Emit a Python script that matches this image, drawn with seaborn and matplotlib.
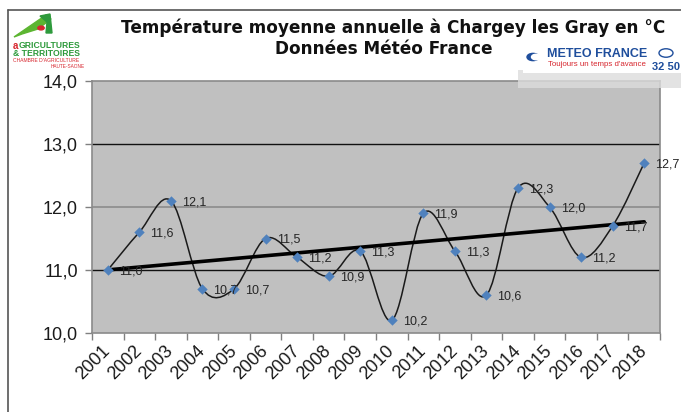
import numpy as np
import matplotlib
matplotlib.use("Agg")
import matplotlib.pyplot as plt
import seaborn as sns
from matplotlib.path import Path
from matplotlib.patches import PathPatch, Polygon, Rectangle, Circle

# données
years = ["2001", "2002", "2003", "2004", "2005", "2006", "2007", "2008", "2009",
         "2010", "2011", "2012", "2013", "2014", "2015", "2016", "2017", "2018"]
temps = [11.0, 11.6, 12.1, 10.7, 10.7, 11.5, 11.2, 10.9, 11.3,
         10.2, 11.9, 11.3, 10.6, 12.3, 12.0, 11.2, 11.7, 12.7]
yticks = [10.0, 11.0, 12.0, 13.0, 14.0]

sns.set_theme(style="white")
plt.rcParams["font.family"] = ["Liberation Sans", "DejaVu Sans"]

W, H = 681, 412
fig = plt.figure(figsize=(W / 100, H / 100), dpi=100)
ax = fig.add_axes([92 / W, 1 - 333 / H, 568 / W, 252 / H])
ax.set_facecolor("#c0c0c0")

x = np.arange(len(temps))
y = np.array(temps)

# gridlines (comme dans l'image : 11 et 13 noires, 12 grise)
ax.axhline(12.0, color="#8c8c8c", lw=1.2, zorder=1)
ax.axhline(11.0, color="#111111", lw=1.0, zorder=1)
ax.axhline(13.0, color="#111111", lw=1.0, zorder=1)

# courbe lissée type Excel (Bezier Catmull-Rom)
pts = np.column_stack([x, y])
ext = np.vstack([pts[0], pts, pts[-1]])
verts = [tuple(pts[0])]
codes = [Path.MOVETO]
for i in range(1, len(ext) - 2):
    p0, p1, p2, p3 = ext[i - 1], ext[i], ext[i + 1], ext[i + 2]
    c1 = p1 + (p2 - p0) / 6
    c2 = p2 - (p3 - p1) / 6
    verts += [tuple(c1), tuple(c2), tuple(p2)]
    codes += [Path.CURVE4] * 3
ax.add_patch(PathPatch(Path(verts, codes), fill=False, color="#1a1a1a", lw=1.1, zorder=2))

# tendance linéaire
sns.regplot(x=x, y=y, scatter=False, ci=None, truncate=True, ax=ax,
            line_kws=dict(color="black", lw=2.6, zorder=3))

sns.scatterplot(x=x, y=y, marker="D", s=28, color="#4f81bd", edgecolor="#4f81bd",
                linewidth=0, zorder=4, ax=ax)

for xi, yi in zip(x, y):
    ax.annotate(f"{yi:.1f}".replace(".", ","), (xi, yi), xytext=(8, -1),
                textcoords="offset points", ha="left", va="center",
                fontsize=9, color="#262626", zorder=5)

ax.set_xlim(-0.5, len(temps) - 0.5)
ax.set_ylim(10.0, 14.0)
ax.set_yticks(yticks)
ax.set_yticklabels([f"{v:.1f}".replace(".", ",") for v in yticks], fontsize=13, color="#1a1a1a")
ax.set_xticks(x)
ax.set_xticklabels(years, rotation=45, ha="right", va="center", rotation_mode="anchor",
                   fontsize=13, color="#1a1a1a")
ax.set_xticks(np.arange(-0.5, len(temps)), minor=True)
ax.tick_params(axis="x", which="major", length=0, pad=11)
ax.tick_params(axis="x", which="minor", length=5, color="#808080", width=1, bottom=True)
ax.tick_params(axis="y", length=5, color="#808080", width=1, left=True, pad=5)
ax.set_xlabel("")
ax.set_ylabel("")
for s in ax.spines.values():
    s.set_color("#8a8a8a")
    s.set_linewidth(1.2)


def fx(px):
    return px / W


def fy(py):
    return 1 - py / H


# cadre du graphique
fig.add_artist(plt.Line2D([fx(8), fx(8)], [fy(10), fy(412)], color="#555555", lw=1.2))
fig.add_artist(plt.Line2D([fx(8), fx(681)], [fy(10), fy(10)], color="#555555", lw=1.2))

# logo Météo France (approximation)
fig.add_artist(Rectangle((fx(518), fy(88)), fx(681) - fx(518), fy(70) - fy(88),
                         color="#dcdcdc", alpha=0.8, transform=fig.transFigure, lw=0))
fig.add_artist(Rectangle((fx(523), fy(73)), fx(681) - fx(523), fy(44) - fy(73),
                         color="white", transform=fig.transFigure, lw=0))
fig.add_artist(Circle((fx(533), fy(57)), 6 / W, color="#1f4e9c", transform=fig.transFigure))
fig.add_artist(Circle((fx(536), fy(57)), 4.5 / W, color="white", transform=fig.transFigure))
fig.text(fx(547), fy(54), "METEO FRANCE", ha="left", va="center", fontsize=9,
         fontweight="bold", color="#1f4e9c")
fig.text(fx(548), fy(64), "Toujours un temps d'avance", ha="left", va="center",
         fontsize=5.7, color="#d7262e")
fig.add_artist(Circle((fx(666), fy(53)), 7 / W, fill=False, color="#1f4e9c", lw=1,
                      transform=fig.transFigure))
fig.text(fx(652), fy(67), "32 50", ha="left", va="center", fontsize=8,
         fontweight="bold", color="#1f4e9c")

# titre
fig.text(fx(121), fy(28), "Température moyenne annuelle à Chargey les Gray en °C",
         ha="left", va="center", fontsize=12.2, fontweight="bold", color="#111111",
         family=["DejaVu Sans"])
fig.text(fx(384), fy(49), "Données Météo France",
         ha="center", va="center", fontsize=12.2, fontweight="bold", color="#111111",
         family=["DejaVu Sans"])

# logo Agricultures & Territoires (approximation)
fig.add_artist(Polygon([(fx(14), fy(37)), (fx(46), fy(15)), (fx(51), fy(19)),
                        (fx(38), fy(29)), (fx(22), fy(34))],
                       closed=True, color="#5cb531", transform=fig.transFigure))
fig.add_artist(Polygon([(fx(40), fy(16)), (fx(50), fy(14)), (fx(52), fy(33)),
                        (fx(46), fy(33)), (fx(47), fy(22))],
                       closed=True, color="#2e9a3c", transform=fig.transFigure))
fig.add_artist(Circle((fx(41), fy(28)), 3.2 / W, color="#d7262e", transform=fig.transFigure))
fig.text(fx(13), fy(46), "a", ha="left", va="center", fontsize=7, fontweight="bold", color="#d7262e")
fig.text(fx(19), fy(46), "GRICULTURES", ha="left", va="center", fontsize=6.2,
         fontweight="bold", color="#2e9a3c")
fig.text(fx(13), fy(54), "& TERRITOIRES", ha="left", va="center", fontsize=6.2,
         fontweight="bold", color="#2e9a3c")
fig.text(fx(13), fy(61), "CHAMBRE D'AGRICULTURE", ha="left", va="center", fontsize=3.6,
         color="#d7262e")
fig.text(fx(68), fy(66), "HAUTE-SAONE", ha="center", va="center", fontsize=3.4,
         color="#d7262e")

fig.savefig("out.png", dpi=100)
